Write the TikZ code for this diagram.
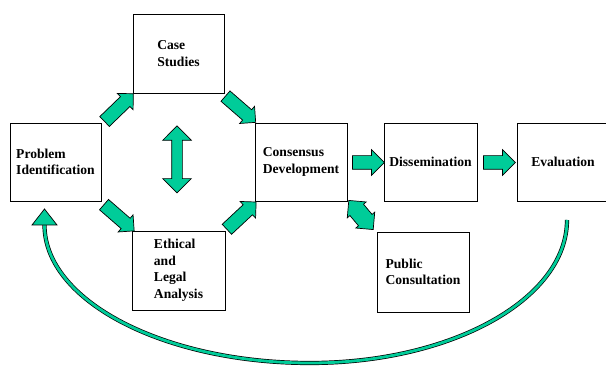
\documentclass[tikz,border=0pt]{standalone}
\usepackage{fontspec}
\setmainfont{Liberation Serif}
\usetikzlibrary{shapes.arrows}
\definecolor{arrgreen}{HTML}{00CC99}
\begin{document}
\begin{tikzpicture}[x=1pt,y=1pt,
  box/.style={draw=black, line width=0.9pt, minimum width=91pt, minimum height=78pt,
    inner sep=0pt, align=left, font=\fontsize{13.6}{16.5}\selectfont\bfseries},
  blk/.style={single arrow, draw=black, fill=arrgreen, line width=0.7pt, inner xsep=0pt, inner ysep=6.5pt,
    minimum height=40pt, single arrow head extend=4.5pt},
  hblk/.style={single arrow, draw=black, fill=arrgreen, line width=0.7pt, inner xsep=0pt, inner ysep=6.5pt,
    minimum height=32pt, single arrow head extend=6pt},
  dblk/.style={double arrow, draw=black, fill=arrgreen, line width=0.7pt, inner xsep=0pt},
  curve/.style={draw=black, line width=0.7pt, double=arrgreen, double distance=2.8pt}]
\useasboundingbox (0,0) rectangle (606,366);
\clip (0,0) rectangle (606,366);
% boxes
\node[box] (prob) at (55.5,204) {Problem\\Identification};
\node[box, minimum height=79pt] (case) at (178.5,312.5) {Case\\Studies};
\node[box, minimum height=79pt, minimum width=93pt] (eth) at (178.5,95.5) {Ethical\\and\\Legal\\Analysis};
\node[box, minimum width=92pt] (cons) at (301,204) {Consensus\\Development};
\node[box, minimum width=93pt] (diss) at (430.5,204) {Dissemination};
\node[box, minimum width=92pt] (eval) at (563,204) {Evaluation};
\node[box, minimum width=92pt, minimum height=80pt] (pub) at (423,94) {Public\\Consultation};
% block arrows
\node[blk, rotate=44] (a1) at (116.5,256) {};
\node[blk, rotate=-41] (a2) at (238,259) {};
\node[blk, rotate=-41] (a3) at (116.5,150.5) {};
\node[blk, rotate=43] (a4) at (239,148) {};
\node[hblk] (a5) at (365,203.5) {};
\node[hblk] (a6) at (496,203.5) {};
\node[dblk, rotate=90, minimum height=67pt, inner ysep=5pt, double arrow head extend=9pt] (v) at (177,206.5) {};
\node[dblk, rotate=-50, minimum height=38pt, inner ysep=8.5pt, double arrow head extend=3.5pt] (d) at (361,151) {};
% curved return arrow
\coordinate (c1) at (567,146);
\coordinate (cb) at (310,3);
\coordinate (c2) at (44.5,141);
\coordinate (tip) at (44.5,157);
\draw[curve] (c1) .. controls (567,67) and (452,3) .. (cb) .. controls (164,3) and (44.5,65) .. (c2);
\draw[draw=black, fill=arrgreen, line width=0.7pt, line join=miter] (32,141) -- (57,141) -- (tip) -- cycle;
\end{tikzpicture}
\end{document}
